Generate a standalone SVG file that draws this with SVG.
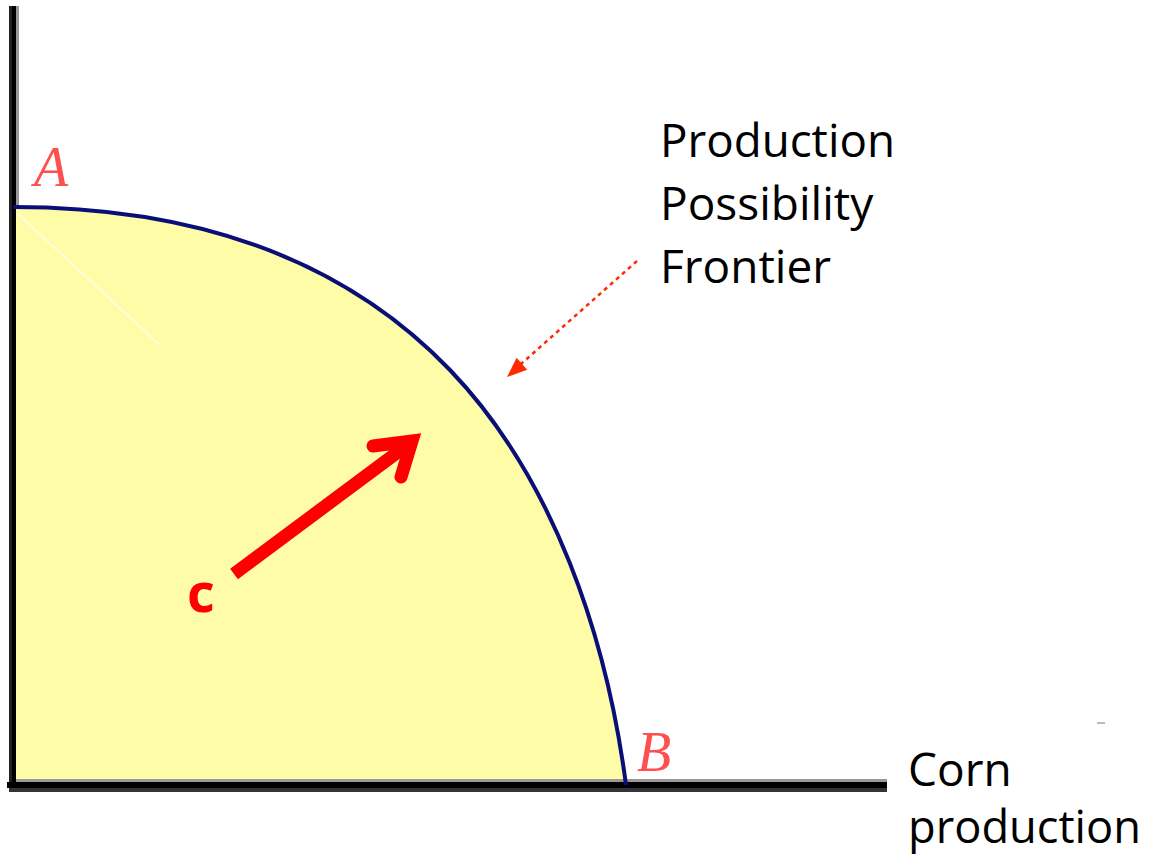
<svg xmlns="http://www.w3.org/2000/svg" width="1149" height="855" viewBox="0 0 1149 855">
<style>
.lbl{font-family:"Open Sans","Liberation Sans",sans-serif;font-size:46px;fill:#000}
.pt{font-family:"Liberation Serif",serif;font-style:italic;font-size:56px;fill:#FF5050}
</style>
<rect width="1149" height="855" fill="#fff"/>
<g id="region">
<path d="M13,207 C213,207 353,269 450,370 C553.5,478 606.5,636.5 626,783 L16,783 L16,207 Z" fill="#FFFCA8"/>
<line x1="18" y1="214" x2="160" y2="345" stroke="#FFFFE8" stroke-width="2" opacity="0.8"/>
</g>
<g id="axes">
<rect x="9" y="6" width="3" height="786" fill="#222"/>
<rect x="12" y="6" width="4" height="786" fill="#000"/>
<rect x="16" y="6" width="3" height="200" fill="#999"/>
<rect x="16" y="779" width="871" height="3" fill="#999"/>
<rect x="7" y="782" width="880" height="6" fill="#000"/>
<rect x="9" y="788" width="878" height="4" fill="#333"/>
<rect x="1097" y="722" width="8" height="2" fill="#BBB"/>
</g>
<g id="frontier">
<path d="M13,207 C213,207 353,269 450,370 C553.5,478 606.5,636.5 626,785" fill="none" stroke="#0A0F78" stroke-width="4"/>
</g>
<g id="point-A"><text class="pt" x="34" y="186">A</text></g>
<g id="point-B"><text class="pt" x="637" y="771">B</text></g>
<g id="point-C"><text x="187" y="612" font-family="Open Sans, Liberation Sans, sans-serif" font-weight="bold" font-size="54" fill="#FF0000">c</text></g>
<g id="connectors">
<line x1="637" y1="261" x2="521" y2="364" stroke="#FF2A00" stroke-width="2.5" stroke-dasharray="4,4"/>
<path d="M507,377 L516.6,357.7 L527.2,369.7 Z" fill="#FF2A00"/>
<line x1="234" y1="574" x2="410" y2="443" stroke="#FF0000" stroke-width="13"/>
<polyline points="373,446 412,441 401,477" fill="none" stroke="#FF0000" stroke-width="13" stroke-linecap="round" stroke-linejoin="miter"/>
</g>
<g id="labels">
<text class="lbl" x="660" y="157" textLength="235" lengthAdjust="spacingAndGlyphs">Production</text>
<text class="lbl" x="660" y="220">Possibility</text>
<text class="lbl" x="660" y="283">Frontier</text>
<text class="lbl" x="908" y="786">Corn</text>
<text class="lbl" x="908" y="843" textLength="233" lengthAdjust="spacingAndGlyphs">production</text>
</g>
</svg>
